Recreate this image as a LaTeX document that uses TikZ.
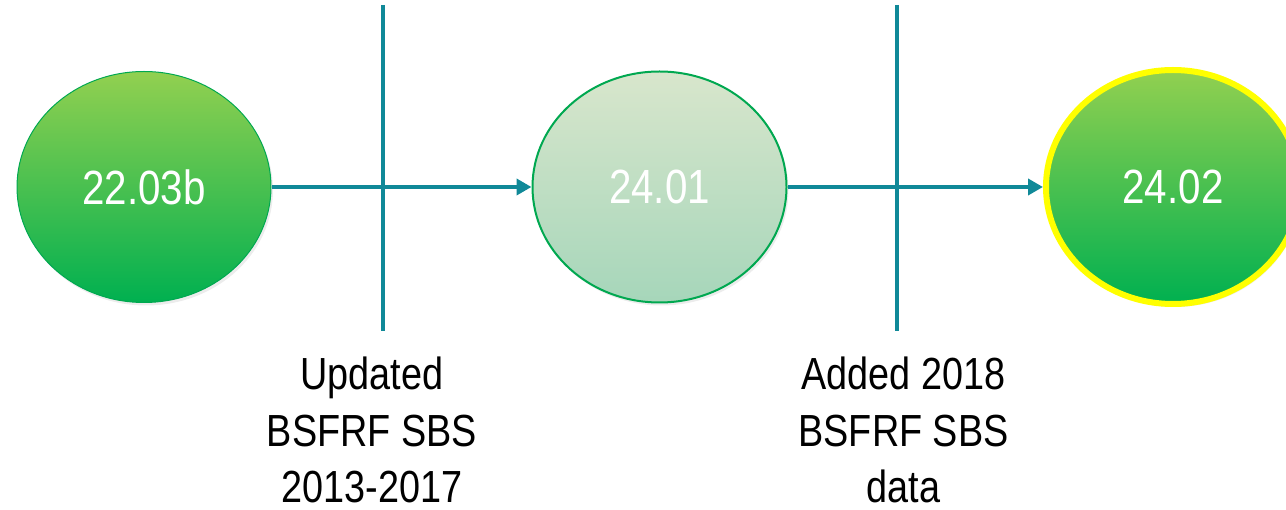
\documentclass[tikz,border=0pt]{standalone}
\usepackage{fontspec}
\setmainfont{Liberation Sans}
\newfontfamily\narrowfont[FakeStretch=0.84]{Liberation Sans}
\usetikzlibrary{arrows.meta,shapes.geometric,shadows}
\definecolor{teal1}{RGB}{16,137,152}
\definecolor{gtop}{RGB}{146,208,80}
\definecolor{gbot}{RGB}{0,176,80}
\definecolor{ltop}{RGB}{216,230,204}
\definecolor{lbot}{RGB}{166,214,186}
\definecolor{gborder}{RGB}{0,168,80}
\definecolor{yel}{RGB}{255,255,0}
\tikzset{
  ver/.style={ellipse, minimum width=254pt, minimum height=231pt, inner sep=0pt,
    text=white, font=\narrowfont\fontsize{48}{56}\selectfont,
    drop shadow={opacity=0.15, shadow xshift=2pt, shadow yshift=-3pt}},
  dark/.style={ver, top color=gtop, bottom color=gbot, draw=gborder, line width=1pt},
  light/.style={ver, top color=ltop, bottom color=lbot, draw=gborder, line width=2pt},
  final/.style={ver, top color=gtop, bottom color=gbot, draw=yel, line width=6pt,
    minimum width=254pt, minimum height=234pt},
  flow/.style={teal1, line width=4pt, -{Triangle[length=15pt,width=16pt]}},
  bar/.style={teal1, line width=4.5pt},
  note/.style={align=center, inner sep=0pt, text=black,
    font=\narrowfont\fontsize{45}{56.5}\selectfont}
}
\begin{document}
\begin{tikzpicture}[x=1pt,y=-1pt]
\useasboundingbox (0,0) rectangle (1286,510);
\clip (0,0) rectangle (1286,510);
% vertical separators
\coordinate (s1t) at (383,5);
\coordinate (s1b) at (383,331);
\coordinate (s2t) at (897,5);
\coordinate (s2b) at (897,331);
\draw[bar] (s1t) -- (s1b);
\draw[bar] (s2t) -- (s2b);
% versions
\node[dark]  (v1) at (144,187) {\raisebox{-2pt}{22.03b}};
\node[light] (v2) at (659.5,187) {\raisebox{-2pt}{24.01}};
\node[final] (v3) at (1173,187) {\raisebox{-2pt}{24.02}};
% arrows
\draw[flow] (v1.east) -- (v2.west);
\draw[flow] (v2.east) -- (v3.west);
% notes
\node[note] (n1) at (372,430) {Updated\\BSFRF SBS\\2013-2017};
\node[note] (n2) at (903.5,430) {Added 2018\\BSFRF SBS\\data};
\end{tikzpicture}
\end{document}
